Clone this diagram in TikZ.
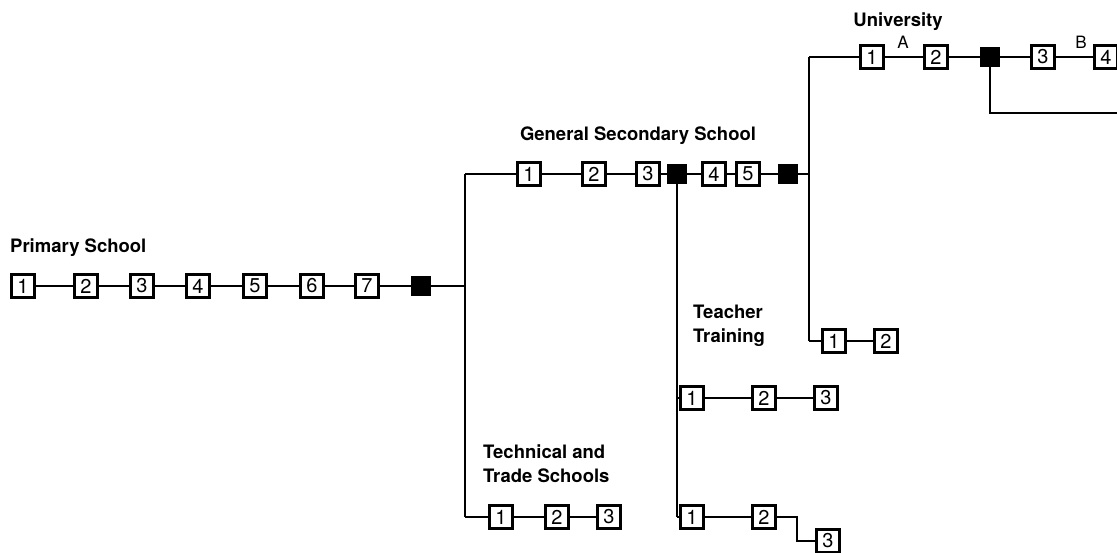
\documentclass[tikz,border=0pt]{standalone}
\usepackage{fontspec}
\setmainfont{TeX Gyre Heros}
\begin{document}
\begin{tikzpicture}[x=1pt,y=-1pt,
  yr/.style={draw,line width=2.4pt,minimum size=23pt,inner sep=0pt,font=\fontsize{20}{20}\selectfont,fill=white},
  blk/.style={draw,fill=black,minimum size=19pt,inner sep=0pt},
  lbl/.style={font=\bfseries\fontsize{18.5}{24}\selectfont,align=left,inner sep=0pt},
  sm/.style={font=\fontsize{17}{17}\selectfont,inner sep=0pt},
  ln/.style={line width=2pt}]
\useasboundingbox (0,0) rectangle (1117,553);
\begin{scope}
\clip (0,0) rectangle (1117,553);
% Primary
\node[lbl,anchor=west] (lp) at (10,248) {Primary School};
\foreach \n/\x in {1/23,2/86,3/142,4/198,5/255,6/312,7/367}{
  \node[yr] (p\n) at (\x,286) {\n};}
\node[blk] (pb) at (421,286) {};
\coordinate (v1t) at (465,174);
\coordinate (v1m) at (465,286);
\coordinate (v1b) at (465,517);
\draw[ln] (p1)--(p2)--(p3)--(p4)--(p5)--(p6)--(p7)--(pb)--(v1m);
\draw[ln] (v1t)--(v1b);
% General secondary
\node[lbl] (lg) at (638,136) {General Secondary School};
\node[yr] (g1) at (529,174) {1};
\node[yr] (g2) at (594,174) {2};
\node[yr] (g3) at (648,174) {3};
\node[blk] (gb1) at (677,174) {};
\node[yr] (g4) at (714,174) {4};
\node[yr] (g5) at (748,174) {5};
\node[blk] (gb2) at (788,174) {};
\coordinate (v2m) at (809,174);
\coordinate (v2t) at (809,57);
\coordinate (v2b) at (809,341);
\draw[ln] (v1t)--(g1)--(g2)--(g3)--(gb1)--(g4)--(g5)--(gb2)--(v2m);
\draw[ln] (v2t)--(v2b);
% Technical
\node[lbl,anchor=north west] (lt) at (483,445) {Technical and\\Trade Schools};
\node[yr] (t1) at (501,517) {1};
\node[yr] (t2) at (557,517) {2};
\node[yr] (t3) at (609,517) {3};
\draw[ln] (v1b)--(t1)--(t2)--(t3);
% Teacher training
\coordinate (v3m) at (677,398);
\coordinate (v3b) at (677,517);
\draw[ln] (gb1)--(v3b);
\node[lbl,anchor=north west] (ltt) at (693,305) {Teacher\\Training};
\node[yr] (a1) at (692,398) {1};
\node[yr] (a2) at (764,398) {2};
\node[yr] (a3) at (826,398) {3};
\draw[ln] (v3m)--(a1)--(a2)--(a3);
\node[yr] (b1) at (692,517) {1};
\node[yr] (b2) at (764,517) {2};
\node[yr] (b3) at (828,541) {3};
\coordinate (s1) at (797,517);
\coordinate (s2) at (797,541);
\draw[ln] (v3b)--(b1)--(b2)--(s1)--(s2)--(b3);
% University
\node[lbl] (lu) at (898,22) {University};
\node[yr] (u1) at (872,57) {1};
\node[yr] (u2) at (936,57) {2};
\node[blk] (ub) at (990,57) {};
\node[yr] (u3) at (1043,57) {3};
\node[yr] (u4) at (1106,57) {4};
\draw[ln] (v2t)--(u1)--(u2)--(ub)--(u3)--(u4);
\node[sm] (la) at (903,42) {A};
\node[sm] (lB) at (1081,42) {B};
\coordinate (r1) at (990,113);
\coordinate (r2) at (1117,113);
\draw[ln] (ub)--(r1)--(r2);
% second uni row
\node[yr] (w1) at (834,341) {1};
\node[yr] (w2) at (886,341) {2};
\draw[ln] (v2b)--(w1)--(w2);
\end{scope}
\end{tikzpicture}
\end{document}
